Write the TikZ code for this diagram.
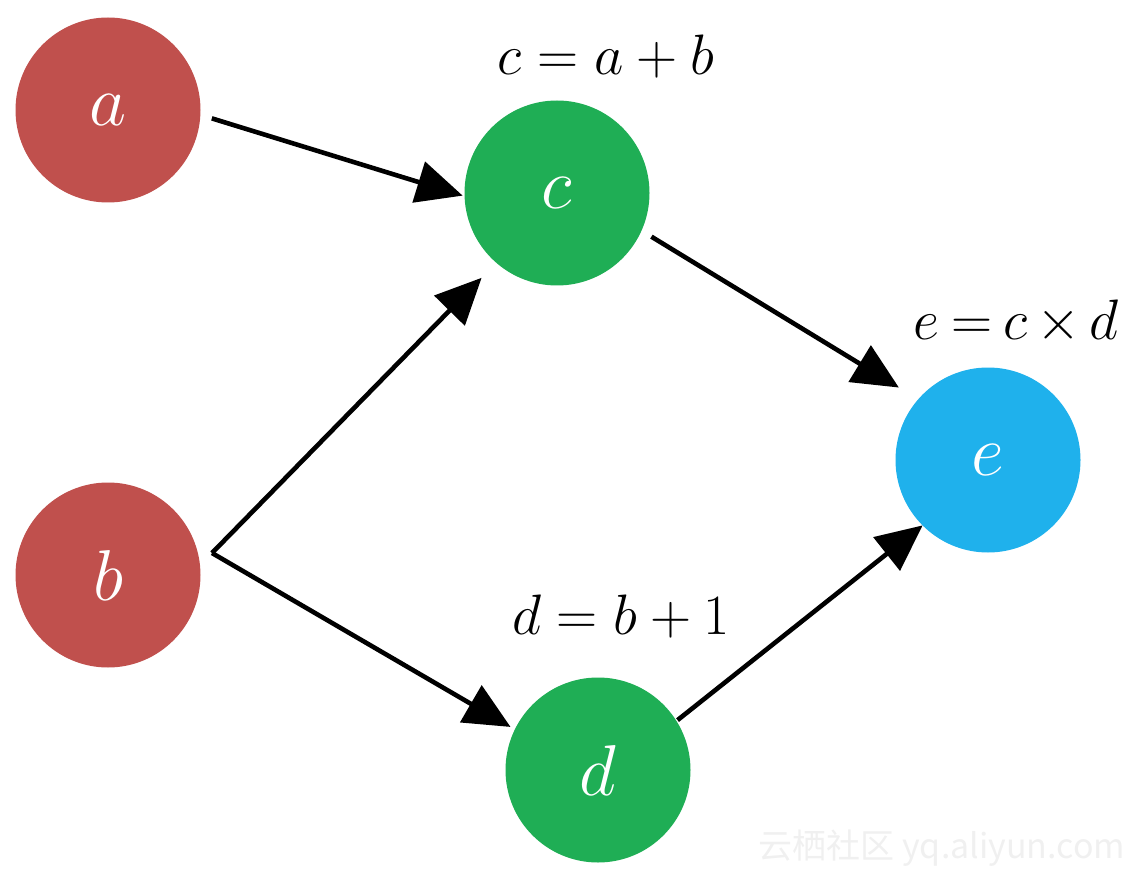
\RequirePackage{fix-cm}
\documentclass[tikz,border=0pt]{standalone}
\usepackage{fontspec}
\newfontfamily\cjkwm{Noto Sans CJK SC}
\usetikzlibrary{arrows.meta}
\definecolor{nred}{HTML}{C0504D}
\definecolor{ngreen}{HTML}{1FAE55}
\definecolor{nblue}{HTML}{1FB1EC}
\begin{document}
\begin{tikzpicture}[x=0.5pt,y=-0.5pt,
  vnode/.style={circle,minimum size=92.5pt,inner sep=0pt,outer sep=0pt,text=white,
    font=\fontsize{36}{40}\selectfont},
  eqlabel/.style={inner sep=0pt,font=\fontsize{28.5}{32}\selectfont},
  conn/.style={line width=2.3pt,-{Triangle[length=23pt,width=21pt]}}]
\useasboundingbox (0,0) rectangle (1140,877);
\node[vnode,fill=nred] (a) at (108,110) {$a$};
\node[vnode,fill=nred] (b) at (108,575) {$b$};
\node[vnode,fill=ngreen] (c) at (557,193) {$c$};
\node[vnode,fill=ngreen] (d) at (598,770) {$d$};
\node[vnode,fill=nblue] (e) at (988,460) {$e$};
\node[eqlabel] (lc) at (606,57) {$c=a+b$};
\node[eqlabel] (le) at (1016,322) {$e\mkern-1.3mu=\mkern-1.3mu c\mkern-1.3mu\times\mkern-1.3mu d$};
\node[eqlabel] (ld) at (621,617) {$d=b+1$};
\coordinate (bj) at (212,553);
\draw[conn,shorten <=6pt,shorten >=1pt] (a.-3) -- (c.182);
\draw[conn,shorten >=10.5pt] (bj) -- (c.229.6);
\draw[conn,shorten >=2.5pt] (bj) -- (d.154);
\draw[conn,shorten <=5.8pt,shorten >=11.3pt] (c.-24.8) -- (e.139.6);
\draw[conn,shorten <=0.7pt] (d.32) -- (e.225);
\node[inner sep=0pt,text=black!6,font=\cjkwm\fontsize{17}{20}\selectfont] (wm) at (942,848) {云栖社区 yq.aliyun.com};
\end{tikzpicture}
\end{document}
